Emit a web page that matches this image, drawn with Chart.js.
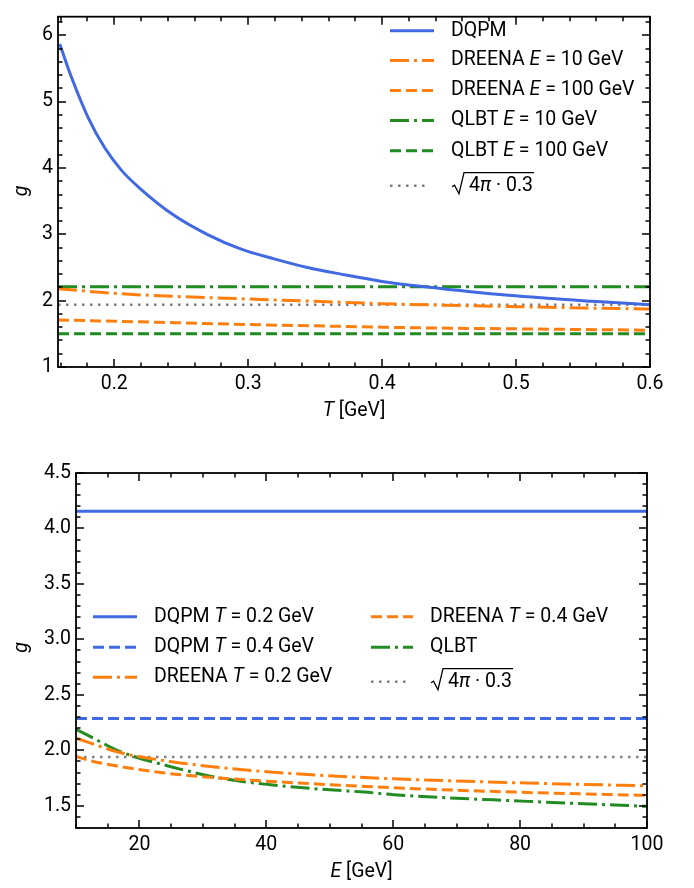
<!DOCTYPE html>
<html><head><meta charset="utf-8">
<script src="https://cdn.jsdelivr.net/npm/chart.js@4.4.1/dist/chart.umd.min.js"></script>
<style>
html,body{margin:0;padding:0;background:#fff;width:694px;height:888px;overflow:hidden}
canvas{position:absolute;left:0}
#c1{top:0}
#c2{top:430px}
</style></head><body>
<canvas id="c1" width="694" height="430"></canvas>
<canvas id="c2" width="694" height="458"></canvas>
<script>
const FONT = "Roboto, 'Open Sans', sans-serif";
const FS = 19.5;

// ---------- top panel: g vs T ----------
const T_dqpm = [0.1593, 0.168, 0.1805, 0.193, 0.2056, 0.2193, 0.2443, 0.2693, 0.2943, 0.3193, 0.3443, 0.3693, 0.4, 0.4318, 0.4944, 0.5569, 0.6];
const g_dqpm = [5.87, 5.37, 4.76, 4.30, 3.96, 3.69, 3.29, 3.00, 2.78, 2.63, 2.50, 2.40, 2.29, 2.21, 2.08, 1.99, 1.94];
const T_dreena = [0.158, 0.2, 0.25, 0.3, 0.35, 0.4, 0.45, 0.5, 0.55, 0.6];
const g_dreena_E10 = [2.18, 2.11, 2.06, 2.025, 1.99, 1.955, 1.93, 1.91, 1.89, 1.875];
const g_dreena_E100 = [1.71, 1.69, 1.665, 1.64, 1.62, 1.60, 1.585, 1.575, 1.565, 1.555];
const T_const = [0.158, 0.6];
const g_qlbt_E10 = [2.21, 2.21];
const g_qlbt_E100 = [1.50, 1.50];
const g_ref_top = [1.94, 1.94];
const xTicksTop = {min: 0.158, max: 0.6, step: 0.1, minor: 0.02};
const yTicksTop = {min: 1, max: 6.28, step: 1, minor: 0.2};

// ---------- bottom panel: g vs E ----------
const E_dqpm = [10, 100];
const g_dqpm_T02 = [4.155, 4.155];
const g_dqpm_T04 = [2.286, 2.286];
const E_pts = [10, 12.2, 16.9, 24.8, 32.7, 40.6, 48.5, 55.4, 60.1, 81.2, 100];
const g_dreena_T02 = [2.11, 2.067, 1.98, 1.90, 1.845, 1.805, 1.775, 1.755, 1.743, 1.705, 1.68];
const g_dreena_T04 = [1.946, 1.907, 1.855, 1.79, 1.75, 1.72, 1.695, 1.675, 1.662, 1.62, 1.594];
const g_qlbt = [2.19, 2.126, 1.99, 1.855, 1.75, 1.69, 1.65, 1.624, 1.60, 1.54, 1.495];
const g_ref_bot = [1.94, 1.94];
const xTicksBot = {min: 10, max: 100, step: 20, minor: 5};
const yTicksBot = {min: 1.3, max: 4.5, step: 0.5, minor: 0.1};

const BLUE = '#4169e1', ORANGE = '#ff7f0e', GREEN = '#228b22', GRAY = '#808080';
const LW = 3;
const DASH = [11, 5], DASHDOT = [19, 5, 3, 5], DOT = [2.5, 5.5];

function pts(xs, ys) { return xs.map((x, i) => ({x: x, y: ys[i]})); }
function ds(xs, ys, color, dash, w) {
  return {data: pts(xs, ys), borderColor: color, borderDash: dash || [], borderWidth: w || LW,
    pointRadius: 0, fill: false, cubicInterpolationMode: 'monotone', borderCapStyle: 'butt'};
}

function richWidth(ctx, segs) {
  let w = 0;
  segs.forEach(s => { ctx.font = (s.i ? 'italic ' : '') + FS + 'px ' + FONT; w += ctx.measureText(s.t).width; });
  return w;
}
function drawRich(ctx, x, y, segs) {
  ctx.fillStyle = '#000'; ctx.textBaseline = 'middle'; ctx.textAlign = 'left';
  segs.forEach(s => { ctx.font = (s.i ? 'italic ' : '') + FS + 'px ' + FONT; ctx.fillText(s.t, x, y); x += ctx.measureText(s.t).width; });
  return x;
}
function drawSqrt(ctx, x, y) {
  const segs = [{t: '4'}, {t: 'π', i: true}, {t: ' · 0.3'}];
  const tx = x + 18;
  const end = drawRich(ctx, tx, y, segs);
  ctx.save();
  ctx.strokeStyle = '#000'; ctx.lineWidth = 1.3; ctx.setLineDash([]);
  ctx.beginPath();
  ctx.moveTo(x + 1, y + 1);
  ctx.lineTo(x + 3.5, y - 0.5);
  ctx.lineTo(x + 8, y + 8);
  ctx.lineTo(x + 13, y - 13);
  ctx.lineTo(end + 1, y - 13);
  ctx.stroke();
  ctx.restore();
}

function decoPlugin(conf) {
  return {
    id: 'deco',
    afterDatasetsDraw(chart) {
      const ctx = chart.ctx, a = chart.chartArea, sx = chart.scales.x, sy = chart.scales.y;
      ctx.save();
      ctx.setLineDash([]);
      ctx.strokeStyle = '#000';
      ctx.lineWidth = 1.5;
      const xt = conf.xt, yt = conf.yt;
      ctx.beginPath();
      const x0 = Math.ceil(xt.min / xt.minor - 1e-6);
      for (let k = x0; k * xt.minor <= xt.max + 1e-9; k++) {
        const v = k * xt.minor;
        const major = Math.abs(v / xt.step - Math.round(v / xt.step)) < 1e-6;
        const L = major ? 8 : 4.5;
        const px = Math.round(sx.getPixelForValue(v));
        ctx.moveTo(px, a.bottom); ctx.lineTo(px, a.bottom - L);
        ctx.moveTo(px, a.top); ctx.lineTo(px, a.top + L);
      }
      const y0 = Math.ceil(yt.min / yt.minor - 1e-6);
      for (let k = y0; k * yt.minor <= yt.max + 1e-9; k++) {
        const v = k * yt.minor;
        const major = Math.abs(v / yt.step - Math.round(v / yt.step)) < 1e-6;
        const L = major ? 8 : 4.5;
        const py = Math.round(sy.getPixelForValue(v));
        ctx.moveTo(a.left, py); ctx.lineTo(a.left + L, py);
        ctx.moveTo(a.right, py); ctx.lineTo(a.right - L, py);
      }
      ctx.stroke();
      ctx.lineWidth = 1.8;
      ctx.strokeRect(a.left, a.top, a.right - a.left, a.bottom - a.top);
      const xs = conf.xTitle;
      const w = richWidth(ctx, xs.segs);
      drawRich(ctx, (a.left + a.right) / 2 - w / 2, xs.y, xs.segs);
      ctx.save();
      ctx.translate(conf.yTitle.x, (a.top + a.bottom) / 2 + conf.yTitle.dy);
      ctx.rotate(-Math.PI / 2);
      ctx.font = 'italic ' + FS + 'px ' + FONT;
      ctx.textAlign = 'center'; ctx.textBaseline = 'middle'; ctx.fillStyle = '#000';
      ctx.fillText('g', 0, 0);
      ctx.restore();
      conf.legend.forEach(it => {
        const d = chart.data.datasets[it.ds];
        ctx.save();
        ctx.strokeStyle = d.borderColor; ctx.lineWidth = d.borderWidth; ctx.setLineDash(d.borderDash);
        ctx.lineCap = 'butt';
        ctx.beginPath(); ctx.moveTo(it.x1, it.y); ctx.lineTo(it.x2, it.y); ctx.stroke();
        ctx.restore();
        if (it.sqrt) drawSqrt(ctx, it.tx, it.y);
        else drawRich(ctx, it.tx, it.y, it.segs);
      });
      ctx.restore();
    }
  };
}

function makeChart(id, datasets, xt, yt, pad, yW, xH, xFmt, yFmt, conf) {
  const tickFont = {family: FONT, size: FS};
  return new Chart(document.getElementById(id), {
    type: 'line',
    data: {datasets: datasets},
    options: {
      responsive: false, animation: false, devicePixelRatio: 1,
      layout: {padding: pad},
      plugins: {legend: {display: false}, tooltip: {enabled: false}},
      scales: {
        x: {type: 'linear', min: xt.min, max: xt.max,
          ticks: {stepSize: xt.step, includeBounds: false, padding: 5, color: '#000', font: tickFont,
            maxRotation: 0, autoSkip: false, callback: xFmt},
          grid: {display: false, drawTicks: false}, border: {display: false},
          afterFit: s => { s.height = xH; }},
        y: {type: 'linear', min: yt.min, max: yt.max,
          ticks: {stepSize: yt.step, includeBounds: false, padding: 5, color: '#000', font: tickFont,
            autoSkip: false, callback: yFmt},
          grid: {display: false, drawTicks: false}, border: {display: false},
          afterFit: s => { s.width = yW; }}
      }
    },
    plugins: [decoPlugin(conf)]
  });
}

makeChart('c1', [
  ds(T_dqpm, g_dqpm, BLUE),
  ds(T_dreena, g_dreena_E10, ORANGE, DASHDOT),
  ds(T_dreena, g_dreena_E100, ORANGE, DASH),
  ds(T_const, g_qlbt_E10, GREEN, DASHDOT),
  ds(T_const, g_qlbt_E100, GREEN, DASH),
  ds(T_const, g_ref_top, GRAY, DOT, 2.5)
], xTicksTop, yTicksTop, {top: 4, right: 44, left: 0, bottom: 0}, 58, 63,
  v => v.toFixed(1), v => String(Math.round(v)),
  {xt: xTicksTop, yt: yTicksTop,
   xTitle: {y: 411.5, segs: [{t: 'T', i: true}, {t: ' [GeV]'}]},
   yTitle: {x: 22, dy: -1},
   legend: [
     {ds: 0, x1: 390, x2: 434, tx: 451, y: 30.7, segs: [{t: 'DQPM'}]},
     {ds: 1, x1: 390, x2: 434, tx: 451, y: 60.5, segs: [{t: 'DREENA '}, {t: 'E', i: true}, {t: ' = 10 GeV'}]},
     {ds: 2, x1: 390, x2: 434, tx: 451, y: 90.5, segs: [{t: 'DREENA '}, {t: 'E', i: true}, {t: ' = 100 GeV'}]},
     {ds: 3, x1: 390, x2: 434, tx: 451, y: 120.5, segs: [{t: 'QLBT '}, {t: 'E', i: true}, {t: ' = 10 GeV'}]},
     {ds: 4, x1: 390, x2: 434, tx: 451, y: 150.7, segs: [{t: 'QLBT '}, {t: 'E', i: true}, {t: ' = 100 GeV'}]},
     {ds: 5, x1: 390, x2: 430, tx: 451, y: 185.7, sqrt: true}
   ]});

makeChart('c2', [
  ds(E_dqpm, g_dqpm_T02, BLUE),
  ds(E_dqpm, g_dqpm_T04, BLUE, DASH),
  ds(E_pts, g_dreena_T02, ORANGE, DASHDOT),
  ds(E_pts, g_dreena_T04, ORANGE, DASH),
  ds(E_pts, g_qlbt, GREEN, DASHDOT),
  ds(E_dqpm, g_ref_bot, GRAY, DOT, 2.5)
], xTicksBot, yTicksBot, {top: 43, right: 47, left: 0, bottom: 0}, 76, 60,
  v => String(Math.round(v)), v => v.toFixed(1),
  {xt: xTicksBot, yt: yTicksBot,
   xTitle: {y: 442.5, segs: [{t: 'E', i: true}, {t: ' [GeV]'}]},
   yTitle: {x: 22, dy: -3},
   legend: [
     {ds: 0, x1: 93, x2: 137, tx: 154, y: 186.7, segs: [{t: 'DQPM '}, {t: 'T', i: true}, {t: ' = 0.2 GeV'}]},
     {ds: 1, x1: 93, x2: 137, tx: 154, y: 217.3, segs: [{t: 'DQPM '}, {t: 'T', i: true}, {t: ' = 0.4 GeV'}]},
     {ds: 2, x1: 93, x2: 137, tx: 154, y: 247.3, segs: [{t: 'DREENA '}, {t: 'T', i: true}, {t: ' = 0.2 GeV'}]},
     {ds: 3, x1: 371, x2: 413, tx: 430, y: 186.7, segs: [{t: 'DREENA '}, {t: 'T', i: true}, {t: ' = 0.4 GeV'}]},
     {ds: 4, x1: 371, x2: 413, tx: 430, y: 217.3, segs: [{t: 'QLBT'}]},
     {ds: 5, x1: 371, x2: 409, tx: 430, y: 251.7, sqrt: true}
   ]});
</script>
</body></html>
